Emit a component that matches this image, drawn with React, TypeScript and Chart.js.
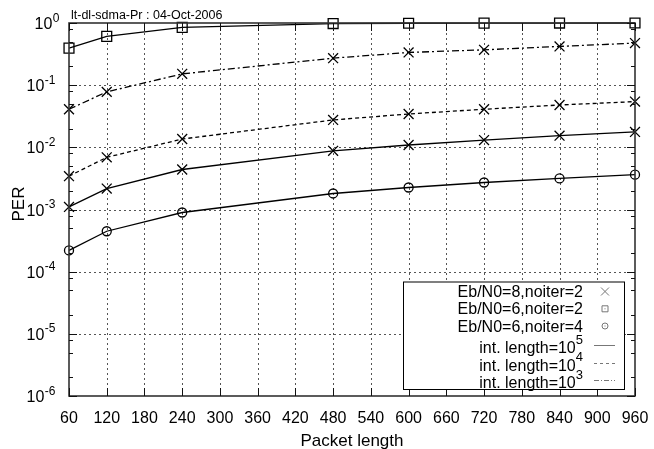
import React, { useEffect, useRef } from 'react';
import { Chart, registerables } from 'chart.js';

Chart.register(...registerables);

// ---- data ----
const packetLengths = [60, 120, 240, 480, 600, 720, 840, 960];
const perEb8It2Int5 = [0.0011, 0.00217, 0.0044, 0.0088, 0.0109, 0.0131, 0.0154, 0.0177];
const perEb8It2Int4 = [0.00344, 0.0069, 0.0136, 0.0276, 0.0344, 0.041, 0.048, 0.0544];
const perEb8It2Int3 = [0.041, 0.078, 0.152, 0.272, 0.336, 0.37, 0.42, 0.475];
const perEb6It2Int5 = [0.395, 0.61, 0.85, 0.98, 0.99, 0.995, 0.998, 1.0];
const perEb6It4Int5 = [0.00022, 0.000447, 0.000895, 0.00181, 0.00226, 0.00272, 0.00316, 0.00363];

const xTicks = [60, 120, 180, 240, 300, 360, 420, 480, 540, 600, 660, 720, 780, 840, 900, 960];
const yDecadeExponents = [0, -1, -2, -3, -4, -5, -6];
const yMinorMultipliers = [2, 5, 8];

const titleText = 'lt-dl-sdma-Pr : 04-Oct-2006';
const xAxisTitle = 'Packet length';
const yAxisTitle = 'PER';

const legendMarkerEntries = [
  { label: 'Eb/N0=8,noiter=2', marker: 'cross' },
  { label: 'Eb/N0=6,noiter=2', marker: 'square' },
  { label: 'Eb/N0=6,noiter=4', marker: 'circle' },
];
const legendLineEntries = [
  { label: 'int. length=10', exp: '5', dash: [] as number[] },
  { label: 'int. length=10', exp: '4', dash: [3, 3] },
  { label: 'int. length=10', exp: '3', dash: [5, 2, 1, 2] },
];

const FONT = '"Liberation Sans", Arial, Helvetica, sans-serif';

const toPoints = (ys: number[]) => packetLengths.map((x, i) => ({ x, y: ys[i] }));

const decorPlugin = {
  id: 'matlabDecor',
  beforeDatasetsDraw(chart: any) {
    const { ctx, chartArea: a, scales } = chart;
    const xs = scales.x;
    const ys = scales.y;
    ctx.save();
    ctx.strokeStyle = '#555';
    ctx.lineWidth = 1;
    ctx.setLineDash([2, 3]);
    for (const t of xTicks) {
      if (t === xs.min || t === xs.max) continue;
      const px = Math.round(xs.getPixelForValue(t)) + 0.5;
      ctx.beginPath();
      ctx.moveTo(px, a.top);
      ctx.lineTo(px, a.bottom);
      ctx.stroke();
    }
    for (const e of yDecadeExponents) {
      const v = Math.pow(10, e);
      if (v === ys.min || v === ys.max) continue;
      const py = Math.round(ys.getPixelForValue(v)) + 0.5;
      ctx.beginPath();
      ctx.moveTo(a.left, py);
      ctx.lineTo(a.right, py);
      ctx.stroke();
    }
    ctx.restore();
  },
  afterDraw(chart: any) {
    const { ctx, chartArea: a, scales } = chart;
    const xs = scales.x;
    const ys = scales.y;
    ctx.save();
    ctx.setLineDash([]);

    // frame
    ctx.strokeStyle = '#333';
    ctx.lineWidth = 1.6;
    ctx.strokeRect(a.left, a.top, a.right - a.left, a.bottom - a.top);

    // ticks
    ctx.lineWidth = 1;
    ctx.strokeStyle = '#111';
    for (const t of xTicks) {
      const px = Math.round(xs.getPixelForValue(t)) + 0.5;
      ctx.beginPath();
      ctx.moveTo(px, a.bottom);
      ctx.lineTo(px, a.bottom - 8);
      ctx.moveTo(px, a.top);
      ctx.lineTo(px, a.top + 8);
      ctx.stroke();
    }
    for (const e of yDecadeExponents) {
      const base = Math.pow(10, e);
      const py = Math.round(ys.getPixelForValue(base)) + 0.5;
      ctx.beginPath();
      ctx.moveTo(a.left, py);
      ctx.lineTo(a.left + 8, py);
      ctx.moveTo(a.right, py);
      ctx.lineTo(a.right - 8, py);
      ctx.stroke();
      if (e === 0) continue;
      for (const m of yMinorMultipliers) {
        const my = Math.round(ys.getPixelForValue(base * m)) + 0.5;
        ctx.beginPath();
        ctx.moveTo(a.left, my);
        ctx.lineTo(a.left + 4, my);
        ctx.moveTo(a.right, my);
        ctx.lineTo(a.right - 4, my);
        ctx.stroke();
      }
    }

    ctx.fillStyle = '#000';
    // x tick labels
    ctx.font = `16px ${FONT}`;
    ctx.textAlign = 'center';
    ctx.textBaseline = 'alphabetic';
    for (const t of xTicks) {
      ctx.fillText(String(t), xs.getPixelForValue(t), a.bottom + 26.5);
    }

    // y tick labels 10^e
    for (const e of yDecadeExponents) {
      const py = ys.getPixelForValue(Math.pow(10, e));
      const sup = String(e);
      ctx.font = `12px ${FONT}`;
      const supW = ctx.measureText(sup).width;
      ctx.font = `16px ${FONT}`;
      const baseW = ctx.measureText('10').width;
      const right = e === 0 ? 59 : 55;
      const bx = right - supW - baseW;
      ctx.textAlign = 'left';
      ctx.fillText('10', bx, py + 6);
      ctx.font = `12px ${FONT}`;
      ctx.fillText(sup, bx + baseW + 0.5, py - 1.5);
    }

    // title
    ctx.font = `12.5px ${FONT}`;
    ctx.textAlign = 'left';
    ctx.fillText(titleText, a.left + 2, 18.5);

    // axis titles
    ctx.font = `17px ${FONT}`;
    ctx.textAlign = 'center';
    ctx.fillText(xAxisTitle, (a.left + a.right) / 2, 446);
    ctx.save();
    ctx.translate(24, 204);
    ctx.rotate(-Math.PI / 2);
    ctx.fillText(yAxisTitle, 0, 0);
    ctx.restore();

    // legend
    const lx = 403.5, ly = 282, lw = 221, lh = 107.5;
    ctx.fillStyle = '#fff';
    ctx.fillRect(lx, ly, lw, lh);
    ctx.strokeStyle = '#000';
    ctx.lineWidth = 1;
    ctx.strokeRect(lx, ly, lw, lh);

    const textRight = 583;
    const symX = 605;
    const rowBase = [297, 314.3, 331.5, 353, 370.5, 388];
    ctx.fillStyle = '#000';
    ctx.textAlign = 'right';
    legendMarkerEntries.forEach((en, i) => {
      const by = rowBase[i];
      ctx.font = `16px ${FONT}`;
      ctx.fillStyle = '#000';
      ctx.fillText(en.label, textRight, by);
      const cy = by - 5.5;
      ctx.strokeStyle = '#777';
      ctx.lineWidth = 1;
      ctx.beginPath();
      if (en.marker === 'cross') {
        ctx.moveTo(symX - 4, cy - 4);
        ctx.lineTo(symX + 4, cy + 4);
        ctx.moveTo(symX + 4, cy - 4);
        ctx.lineTo(symX - 4, cy + 4);
        ctx.stroke();
      } else if (en.marker === 'square') {
        ctx.rect(symX - 3, cy - 3, 6, 6);
        ctx.stroke();
        ctx.fillStyle = '#777';
        ctx.fillRect(symX - 0.5, cy - 0.5, 1, 1);
      } else {
        ctx.arc(symX, cy, 3, 0, Math.PI * 2);
        ctx.stroke();
        ctx.fillStyle = '#777';
        ctx.fillRect(symX - 0.5, cy - 0.5, 1, 1);
      }
    });
    legendLineEntries.forEach((en, i) => {
      const by = rowBase[i + 3];
      ctx.fillStyle = '#000';
      ctx.font = `13px ${FONT}`;
      const supW = ctx.measureText(en.exp).width;
      ctx.textAlign = 'right';
      ctx.fillText(en.exp, textRight, by - 9.5);
      ctx.font = `16px ${FONT}`;
      ctx.fillText(en.label, textRight - supW, by);
      ctx.strokeStyle = '#777';
      ctx.lineWidth = 1;
      ctx.setLineDash(en.dash);
      ctx.beginPath();
      ctx.moveTo(594, Math.round(by - 8) + 0.5);
      ctx.lineTo(615, Math.round(by - 8) + 0.5);
      ctx.stroke();
      ctx.setLineDash([]);
    });

    ctx.restore();
  },
};

export default function App() {
  const canvasRef = useRef<HTMLCanvasElement | null>(null);

  useEffect(() => {
    const canvas = canvasRef.current;
    if (!canvas) return;
    const common = {
      borderColor: '#000',
      borderWidth: 1.3,
      pointBorderColor: '#000',
      pointBackgroundColor: 'rgba(0,0,0,0)',
      pointBorderWidth: 1.3,
      fill: false,
      tension: 0,
      clip: false as any,
    };
    const chart = new Chart(canvas, {
      type: 'line',
      data: {
        datasets: [
          { ...common, label: 'Eb/N0=8,noiter=2, int. length=10^5', data: toPoints(perEb8It2Int5), pointStyle: 'crossRot', pointRadius: 7, borderDash: [] },
          { ...common, label: 'Eb/N0=8,noiter=2, int. length=10^4', data: toPoints(perEb8It2Int4), pointStyle: 'crossRot', pointRadius: 7, borderDash: [4, 3] },
          { ...common, label: 'Eb/N0=8,noiter=2, int. length=10^3', data: toPoints(perEb8It2Int3), pointStyle: 'crossRot', pointRadius: 7, borderDash: [7, 3, 2, 3] },
          { ...common, label: 'Eb/N0=6,noiter=2, int. length=10^5', data: toPoints(perEb6It2Int5), pointStyle: 'rect', pointRadius: 7, borderDash: [] },
          { ...common, label: 'Eb/N0=6,noiter=4, int. length=10^5', data: toPoints(perEb6It4Int5), pointStyle: 'circle', pointRadius: 4.5, borderDash: [] },
        ] as any,
      },
      options: {
        animation: false,
        responsive: false,
        maintainAspectRatio: false,
        devicePixelRatio: 1,
        layout: { padding: { left: 69, right: 19, top: 23, bottom: 53 } },
        plugins: { legend: { display: false }, title: { display: false }, tooltip: { enabled: false } },
        events: [],
        scales: {
          x: { type: 'linear', min: 60, max: 960, display: false },
          y: { type: 'logarithmic', min: 1e-6, max: 1, display: false },
        },
      } as any,
      plugins: [decorPlugin],
    });
    return () => chart.destroy();
  }, []);

  return (
    <div style={{ position: 'absolute', left: 0, top: 0, width: 654, height: 449, background: '#fff' }}>
      <canvas ref={canvasRef} width={654} height={449} style={{ width: 654, height: 449, display: 'block' }} />
    </div>
  );
}
